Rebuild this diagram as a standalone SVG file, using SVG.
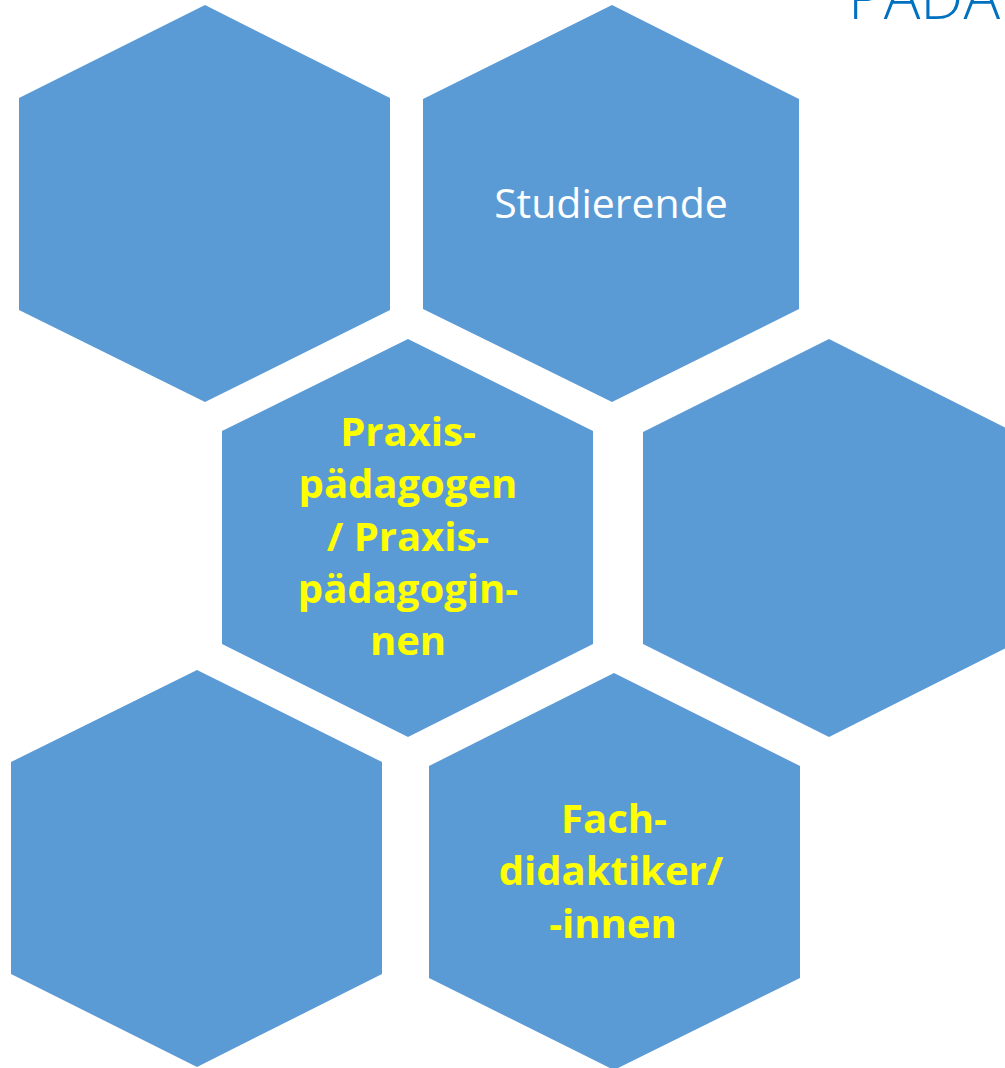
<svg xmlns="http://www.w3.org/2000/svg" width="1005" height="1068" viewBox="0 0 1005 1068">
  <style>
    .hex { fill: #5B9BD5; }
    .white { fill: #FFFFFF; font-family: "Open Sans", "Liberation Sans", sans-serif; font-size: 41px; text-anchor: middle; }
    .yellow { fill: #FFFF00; font-family: "Open Sans", "Liberation Sans", sans-serif; font-size: 40px; font-weight: bold; text-anchor: middle; }
    .title { fill: #0070C0; font-family: "Open Sans", "Liberation Sans", sans-serif; font-size: 61px; font-weight: 300; }
  </style>
  <rect width="1005" height="1068" fill="#FFFFFF"/>
  <text class="title" x="848" y="18.7">PÄDA</text>
  <g id="hex-top-left">
    <polygon class="hex" points="205,5 390,98 390,310 205,402 19,310 19,98"/>
  </g>
  <g id="hex-studierende">
    <polygon class="hex" points="612,5 799,99 799,309 612,402 423,309 423,99"/>
    <text class="white" x="611" y="218">Studierende</text>
  </g>
  <g id="hex-praxis">
    <polygon class="hex" points="408,339 593,431 593,644 408,737 222,644 222,431"/>
    <text class="yellow" x="408" y="445.7">Praxis-</text>
    <text class="yellow" x="408" y="497.5">pädagogen</text>
    <text class="yellow" x="408" y="550.5">/ Praxis-</text>
    <text class="yellow" x="408" y="602.7">pädagogin-</text>
    <text class="yellow" x="408" y="655">nen</text>
  </g>
  <g id="hex-middle-right">
    <polygon class="hex" points="829,339 1014,432 1014,644 829,737 643,644 643,432"/>
  </g>
  <g id="hex-bottom-left">
    <polygon class="hex" points="197,670 382,762 382,974 197,1067 11,974 11,762"/>
  </g>
  <g id="hex-fach">
    <polygon class="hex" points="614,673 800,766 800,978 614,1070 429,978 429,766"/>
    <text class="yellow" x="614" y="832.7">Fach-</text>
    <text class="yellow" x="611" y="885.3">didaktiker/</text>
    <text class="yellow" x="613" y="938.3">-innen</text>
  </g>
  <g id="connectors"/>
</svg>
